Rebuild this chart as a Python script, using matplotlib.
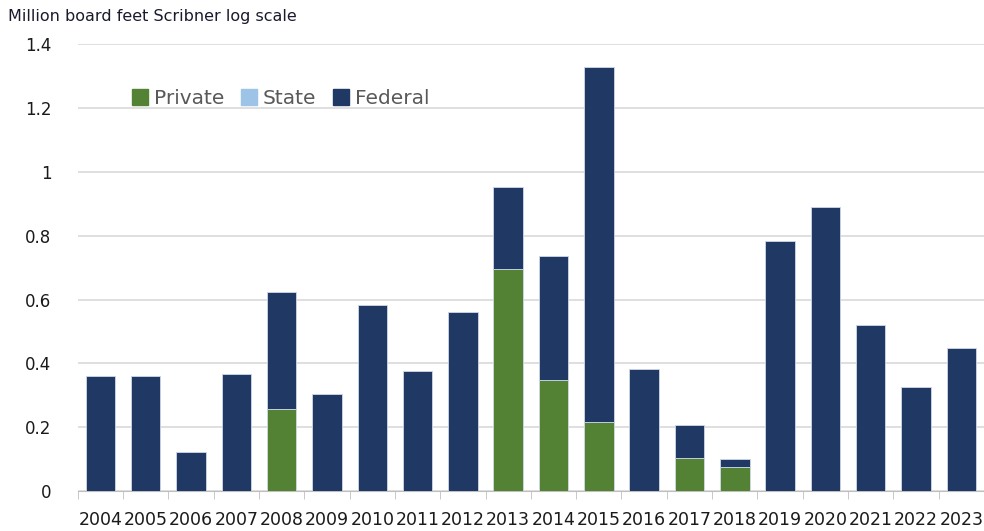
import numpy as np
import matplotlib.pyplot as plt
from matplotlib.patches import Patch

years = [str(y) for y in range(2004, 2024)]
private = [0, 0, 0, 0, 0.257, 0, 0, 0, 0, 0.695, 0.348, 0.216, 0, 0.103, 0.075, 0, 0, 0, 0, 0]
state = [0] * 20
total = [0.36, 0.36, 0.122, 0.366, 0.623, 0.304, 0.582, 0.376, 0.56, 0.952,
         0.736, 1.328, 0.382, 0.207, 0.1, 0.783, 0.889, 0.52, 0.326, 0.448]
federal = [t - p - s for t, p, s in zip(total, private, state)]

c_priv = '#548235'
c_state = '#9dc3e6'
c_fed = '#203864'

fig = plt.figure(figsize=(9.84, 5.31), dpi=100)
ax = fig.add_axes([0.079, 0.075, 0.921, 0.842])

x = np.arange(len(years))
w = 0.65
ax.bar(x, private, w, color=c_priv, edgecolor='#d0d8e8', linewidth=0.6, zorder=3)
ax.bar(x, state, w, bottom=private, color=c_state, linewidth=0, zorder=3)
bot = [p + s for p, s in zip(private, state)]
ax.bar(x, federal, w, bottom=bot, color=c_fed, edgecolor='#d0d8e8', linewidth=0.6, zorder=3)

ax.set_xlim(-0.5, len(years) - 0.5)
ax.set_ylim(0, 1.4)
ax.set_yticks([0, 0.2, 0.4, 0.6, 0.8, 1.0, 1.2, 1.4])
ax.set_yticklabels(['0', '0.2', '0.4', '0.6', '0.8', '1', '1.2', '1.4'])
ax.yaxis.grid(True, color='#d9d9d9', linewidth=1.2, zorder=0)
ax.tick_params(axis='y', length=0, pad=19, labelsize=12, labelcolor='#1a1a1a')

ax.set_xticks(x)
ax.set_xticklabels(years)
ax.set_xticks(np.arange(-0.5, len(years)), minor=True)
ax.tick_params(axis='x', which='major', length=0, pad=14, labelsize=12.5, labelcolor='#1a1a1a')
ax.tick_params(axis='x', which='minor', length=6, color='#bfbfbf')

for s in ['top', 'right', 'left']:
    ax.spines[s].set_visible(False)
ax.spines['bottom'].set_color('#bfbfbf')

fig.text(0.008, 0.968, 'Million board feet Scribner log scale', fontsize=11.5, color='#1a1a2e', va='center')

handles = [Patch(color=c_priv, label='Private'), Patch(color=c_state, label='State'),
           Patch(color=c_fed, label='Federal')]
ax.legend(handles=handles, loc='upper left', bbox_to_anchor=(0.04, 0.94), ncol=3, frameon=False,
          fontsize=14.5, labelcolor='#595959', handlelength=0.8, handleheight=0.8,
          handletextpad=0.3, columnspacing=0.8)

fig.savefig('out.png', dpi=100)
